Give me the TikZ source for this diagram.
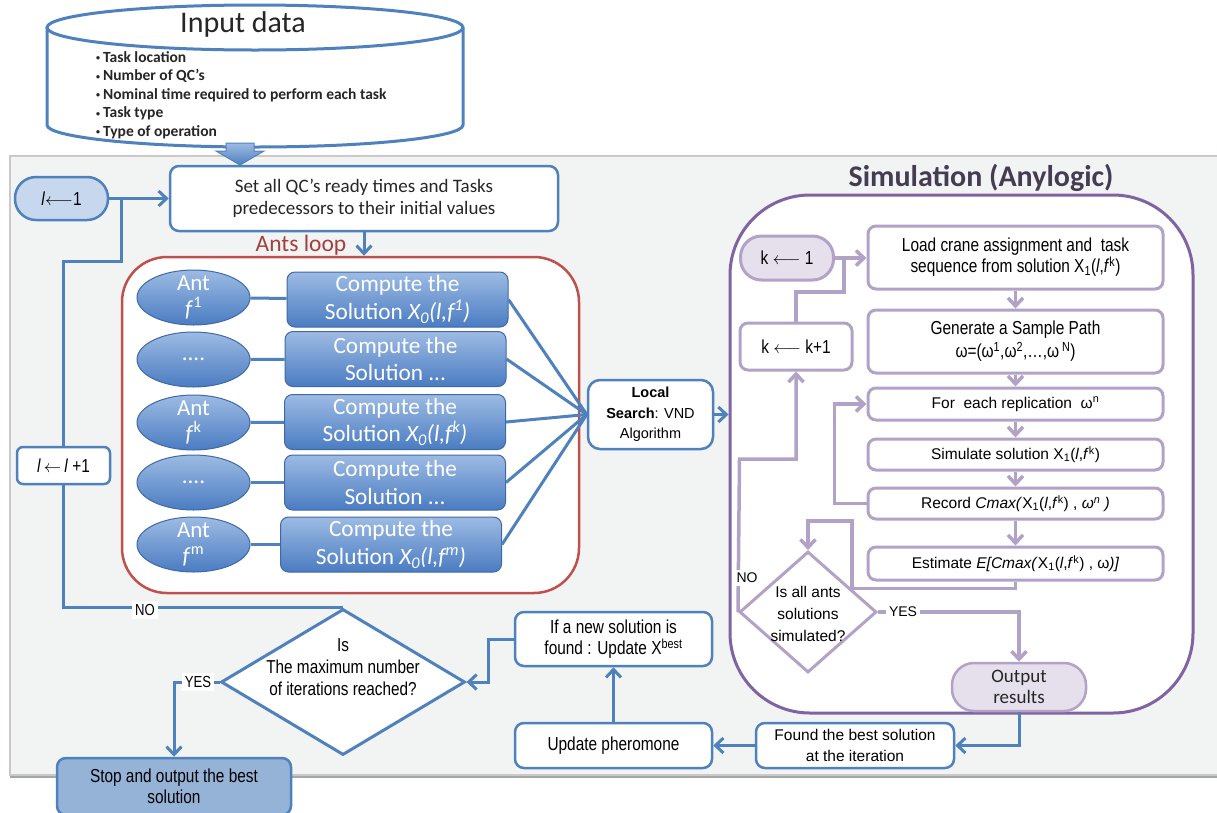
\documentclass[tikz,border=0pt]{standalone}
\usepackage{fontspec}
\setmainfont{Carlito}
\newfontfamily\arialfont{Liberation Sans}
\newfontfamily\narrowfont[FakeStretch=0.82]{Liberation Sans}
\usetikzlibrary{arrows.meta,shapes.geometric}

\definecolor{lineblue}{HTML}{4F81BD}
\definecolor{fillblue}{HTML}{C6D7EE}
\definecolor{stopblue}{HTML}{95B3D7}
\definecolor{gradtop}{HTML}{9DBBE3}
\definecolor{gradbot}{HTML}{4A7CC2}
\definecolor{loopred}{HTML}{C0504D}
\definecolor{looptext}{HTML}{A33F3D}
\definecolor{simpurple}{HTML}{8064A2}
\definecolor{lightpurple}{HTML}{B3A2C7}
\definecolor{fillpurple}{HTML}{E5E0EC}
\definecolor{titlegray}{HTML}{453C53}
\definecolor{panelgray}{HTML}{F2F3F3}
\definecolor{paneledge}{HTML}{C9C9C9}

\newcommand{\itembullet}{\raisebox{1.5pt}{\fontsize{8}{8}\selectfont\textbullet}\hspace{3pt}}

\begin{document}
\begin{tikzpicture}[x=1pt,y=-1pt,
  >={Straight Barb[length=8pt,width=15pt]},
  blueline/.style={draw=lineblue,line width=3pt},
  purpleline/.style={draw=lightpurple,line width=3.5pt},
  bluebox/.style={draw=lineblue,line width=2.5pt,fill=white,rounded corners=9pt,inner sep=0pt,align=center},
  purplebox/.style={draw=lightpurple,line width=3pt,fill=white,rounded corners=8pt,inner sep=0pt,align=center,minimum width=295pt},
  compute/.style={draw=gradbot!85!black,line width=1pt,top color=gradtop,bottom color=gradbot,rounded corners=8pt,minimum width=221pt,minimum height=55pt,inner sep=0pt,align=center,text=white,font=\fontsize{23.3}{27.5}\selectfont},
  ant/.style={ellipse,draw=gradbot!85!black,line width=1pt,top color=gradtop,bottom color=gradbot,minimum width=113pt,minimum height=55pt,inner sep=0pt},
  anttext/.style={align=center,text=white,font=\fontsize{23}{26}\selectfont},
  tag/.style={fill=white,inner sep=3pt},
  arialtext/.style={font=\arialfont\fontsize{15.5}{21}\selectfont},
  narrowtext/.style={font=\narrowfont\fontsize{18.8}{21.5}\selectfont},
]
\clip (0,0) rectangle (1217,812);

% background panel
\fill[panelgray] (10,156) rectangle (1230,775);
\draw[black!35,line width=2.5pt] (10,777) -- (1230,777);
\draw[paneledge,line width=1.2pt] (10,156) rectangle (1230,775);

% input data cylinder
\draw[blueline,fill=white] (47,27.5) -- (47,125) arc[start angle=180,end angle=360,x radius=208pt,y radius=22pt] -- (463,27.5);
\draw[blueline,fill=white] (255,27.5) ellipse[x radius=208pt,y radius=22.5pt];
\node[font=\fontsize{30}{30}\selectfont,text=black!85] (title) at (243,24) {Input data};
\node[anchor=north west,align=left,inner sep=0pt,font=\bfseries\fontsize{15.5}{18.5}\selectfont,text=black!85] (items) at (96,51)
  {\itembullet Task location\\\itembullet Number of QC’s\\\itembullet Nominal time required to perform each task\\\itembullet Task type\\\itembullet Type of operation};
\draw[draw=lineblue,line width=1pt,top color=gradtop,bottom color=lineblue] (226,143) -- (254,143) -- (254,151) -- (264,151) -- (240,165) -- (216,151) -- (226,151) -- cycle;

% frames
\node[draw=loopred,line width=2.5pt,fill=white,rounded corners=45pt,minimum width=457pt,minimum height=336pt,inner sep=0pt] (antsloop) at (350.5,425) {};
\node[text=looptext,font=\fontsize{23.5}{23.5}\selectfont] (antstitle) at (301,245) {Ants loop};
\node[draw=simpurple,line width=3pt,fill=white,rounded corners=80pt,minimum width=463pt,minimum height=518pt,inner sep=0pt] (simframe) at (961.5,454) {};
\node[text=titlegray,font=\bfseries\fontsize{30}{30}\selectfont] (simtitle) at (981,178) {Simulation (Anylogic)};

% ACO part
\node[draw=lineblue,line width=2.5pt,fill=fillblue,rounded corners=21pt,minimum width=93pt,minimum height=43pt,inner sep=0pt,narrowtext] (init) at (61.5,198.5) {\textit{l}$\longleftarrow$1};
\node[bluebox,minimum width=388pt,minimum height=65pt,text=black!85,font=\fontsize{19}{22}\selectfont] (setall) at (364,198.5) {Set all QC’s ready times and Tasks\\predecessors to their initial values};
\node[bluebox,rounded corners=6pt,minimum width=93pt,minimum height=37pt,narrowtext] (incr) at (63.5,465.5) {\textit{l}\,$\leftarrow$\,\textit{l} +1};

\node[ant,label={[anttext]center:Ant\\\textit{f}\textsuperscript{1}}] (ant1) at (193.5,297.5) {};
\node[ant,label={[anttext]center:....}] (ant2) at (193.5,359.5) {};
\node[ant,label={[anttext]center:Ant\\\textit{f}\textsuperscript{k}}] (ant3) at (193.5,422.5) {};
\node[ant,label={[anttext]center:....}] (ant4) at (193.5,482.5) {};
\node[ant,label={[anttext]center:Ant\\\textit{f}\textsuperscript{m}}] (ant5) at (193.5,544.5) {};

\node[compute] (comp1) at (397.5,299.5) {Compute the\\Solution \textit{X\textsubscript{0}(l,f\textsuperscript{1})}};
\node[compute] (comp2) at (395.5,359) {Compute the\\Solution ...};
\node[compute] (comp3) at (395,422) {Compute the\\Solution \textit{X\textsubscript{0}(l,f\textsuperscript{k})}};
\node[compute] (comp4) at (395,482.5) {Compute the\\Solution ...};
\node[compute] (comp5) at (391,544.5) {Compute the\\Solution \textit{X\textsubscript{0}(l,f\textsuperscript{m})}};

\node[bluebox,rounded corners=12pt,minimum width=125pt,minimum height=69pt,font=\arialfont\fontsize{14.5}{20.5}\selectfont] (local) at (650.5,414.5) {\textbf{Local}\\\textbf{Search}: VND\\Algorithm};

\node[diamond,draw=lineblue,line width=3pt,fill=white,minimum width=244pt,minimum height=146pt,inner sep=0pt,
  label={[yshift=15pt,align=center,font=\narrowfont\fontsize{18.7}{22}\selectfont]center:Is\\The maximum  number\\of iterations reached?}] (maxit) at (343,682) {};
\node[bluebox,minimum width=197pt,minimum height=54pt,narrowtext] (newbest) at (613.5,639) {If a new solution is\\found : Update X\textsuperscript{best}};
\node[bluebox,minimum width=197pt,minimum height=45pt,narrowtext] (pher) at (613.5,745.5) {Update pheromone};
\node[bluebox,minimum width=198pt,minimum height=45pt,arialtext] (found) at (855,745.5) {Found the best solution\\at the iteration};
\node[bluebox,fill=stopblue,minimum width=234pt,minimum height=57pt,narrowtext] (stop) at (174,786.5) {Stop and output the best\\solution};

% simulation part
\node[draw=lightpurple,line width=3pt,fill=fillpurple,rounded corners=21pt,minimum width=93pt,minimum height=44pt,inner sep=0pt,narrowtext] (kone) at (787,258) {k $\longleftarrow$ 1};
\node[purplebox,minimum width=112pt,minimum height=47pt,narrowtext] (kinc) at (796,346.5) {k $\longleftarrow$ k+1};
\node[purplebox,minimum height=63pt,font=\narrowfont\fontsize{18.8}{21}\selectfont] (load) at (1015.5,257.5) {Load crane assignment and\ \ task\\sequence from solution X\textsubscript{1}(\textit{l},\textit{f}\textsuperscript{k})};
\node[purplebox,minimum height=63pt,font=\narrowfont\fontsize{18.8}{23}\selectfont] (gen) at (1015.5,341.5) {Generate a Sample Path\\ω=(ω\textsuperscript{1},ω\textsuperscript{2},…,ω\textsuperscript{ N})};
\node[purplebox,minimum height=32pt,arialtext] (rep) at (1015.5,404) {For\ \ each replication\ \ ω\textsuperscript{n}};
\node[purplebox,minimum height=31pt,arialtext] (simu) at (1015.5,454.5) {Simulate solution X\textsubscript{1}(\textit{l},\textit{f}\textsuperscript{k})};
\node[purplebox,minimum height=31pt,arialtext] (rec) at (1015.5,503.5) {Record \textit{Cmax(}X\textsubscript{1}(\textit{l},\textit{f}\textsuperscript{k}) , \textit{ω\textsuperscript{n} )}};
\node[purplebox,minimum height=33pt,arialtext] (est) at (1015.5,563.5) {Estimate \textit{E[Cmax(}X\textsubscript{1}(\textit{l},\textit{f}\textsuperscript{k}) , ω\textit{)]}};
\node[diamond,draw=lightpurple,line width=3pt,fill=white,minimum width=137pt,minimum height=121pt,inner sep=0pt,
  label={[yshift=-2pt,align=center,font=\arialfont\fontsize{15.5}{22}\selectfont]center:Is all ants\\solutions\\simulated?}] (allsim) at (808,612) {};
\node[draw=lightpurple,line width=2.5pt,fill=fillpurple,rounded corners=22pt,minimum width=134pt,minimum height=48pt,inner sep=0pt,align=center,text=black!85,font=\fontsize{19}{21}\selectfont] (output) at (1019,687) {Output\\results};

\coordinate (loopjoin) at (121,198.5);
\coordinate (loopbend) at (121,261);
\coordinate (kjoin) at (844,258);
\coordinate (kbend) at (844,292);
\coordinate (simbend) at (852,521);
\coordinate (nobend) at (739.5,459);

% blue connectors
\draw[blueline,->] (init) -- (setall);
\draw[blueline] (maxit.north) -| (incr.south);
\draw[blueline] (incr.north) |- (loopbend) -- (loopjoin);
\draw[blueline,->] (setall) -- (setall.south |- antsloop.north);
\foreach \i in {1,...,5} {
  \draw[blueline] (ant\i) -- (comp\i);
  \draw[blueline] (comp\i.east) -- (local.west);
}
\draw[blueline,->] (local) -- (local -| simframe.west);
\draw[blueline,->] (output.south) |- (found.east);
\draw[blueline,->] (found) -- (pher);
\draw[blueline,->] (pher) -- (newbest);
\draw[blueline,->] (newbest.west) -- ++(-25,0) |- (maxit.east);
\draw[blueline,->] (maxit.west) -| (stop.north);

% purple connectors
\draw[purpleline,->] (kone.east) -- (kone.east -| load.west);
\draw[purpleline] (kinc.north) |- (kbend) -- (kjoin);
\foreach \a/\b in {load/gen,gen/rep,rep/simu,simu/rec,rec/est}
  \draw[purpleline,->] (\a) -- (\b);
\draw[purpleline,->] (rec.west) -- ++(-32,0) |- (rep.west);
\draw[purpleline,->] (est.south) -- ++(0,7) -| (simbend) -| (allsim.north);
\draw[purpleline,->] (allsim.west) -- (nobend) -| (kinc.south);
\draw[purpleline,->] (allsim.east) -| (output.north);

% tags
\node[tag,font=\narrowfont\fontsize{16}{16}\selectfont] (no1) at (145,610) {NO};
\node[tag,font=\narrowfont\fontsize{16}{16}\selectfont] (yes1) at (198,682) {YES};
\node[tag,font=\arialfont\fontsize{14}{14}\selectfont] (no2) at (747,578) {NO};
\node[tag,font=\arialfont\fontsize{14}{14}\selectfont] (yes2) at (903,612) {YES};
\end{tikzpicture}
\end{document}
